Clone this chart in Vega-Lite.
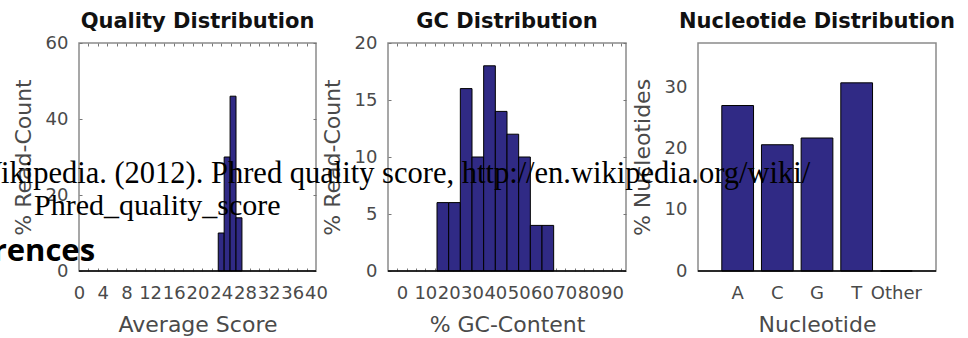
{
  "$schema": "https://vega.github.io/schema/vega-lite/v6.json",
  "autosize": {"type": "none"},
  "padding": {"left": 79, "top": 43, "right": 889, "bottom": 295},
  "background": "white",
  "spacing": 72,
  "bounds": "flush",
  "config": {
    "font": "DejaVu Sans",
    "view": {"stroke": "#8a8a8a", "strokeWidth": 1.5},
    "axis": {
      "labelFont": "DejaVu Sans", "labelFontSize": 18, "labelColor": "#4a4a4a",
      "titleFont": "DejaVu Sans", "titleFontSize": 22, "titleFontWeight": "normal", "titleColor": "#4a4a4a",
      "domain": false, "ticks": false, "tickSize": 0, "grid": false,
      "labelOverlap": false, "labelFlush": false, "labelBound": false
    },
    "axisX": {"labelPadding": 13, "titlePadding": 12},
    "axisY": {"labelPadding": 11, "titlePadding": 10},
    "title": {"font": "DejaVu Sans", "fontSize": 21, "fontWeight": "bold", "color": "#111111", "anchor": "middle", "frame": "group", "baseline": "alphabetic", "offset": 12}
  },
  "hconcat": [
    {
      "width": 237, "height": 228,
      "title": {"text": "Quality Distribution", "offset": 2},
      "data": {"values": [
        {"score_start": 23.5, "score_end": 24.5, "read_pct": 10},
        {"score_start": 24.5, "score_end": 25.5, "read_pct": 30},
        {"score_start": 25.5, "score_end": 26.5, "read_pct": 46},
        {"score_start": 26.5, "score_end": 27.5, "read_pct": 14}
      ]},
      "layer": [
        {
          "mark": {"type": "rect", "fill": "#302a85", "stroke": "#000000", "strokeWidth": 1},
          "encoding": {
            "x": {"field": "score_start", "type": "quantitative", "scale": {"domain": [0, 40], "nice": false, "zero": false},
                  "axis": {"orient": "bottom", "values": [0, 4, 8, 12, 16, 20, 24, 28, 32, 36, 40], "title": "Average Score"}},
            "x2": {"field": "score_end"},
            "y": {"field": "read_pct", "type": "quantitative", "scale": {"domain": [0, 60], "nice": false},
                  "axis": {"values": [0, 20, 40, 60], "title": "% Read-Count", "grid": true, "gridColor": "#777777", "gridOpacity": 1, "gridDash": [3, 231, 3, 1000]}},
            "y2": {"datum": 0}
          }
        },
        {
          "mark": {"type": "point", "opacity": 0},
          "encoding": {
            "x": {"field": "score_start", "type": "quantitative", "scale": {"domain": [0, 40], "nice": false, "zero": false},
                  "axis": {"orient": "top", "values": [1.6, 3.2, 4.8, 6.4, 8, 9.6, 11.2, 12.8, 14.4, 16, 17.6, 19.2, 20.8, 22.4, 24, 25.6, 27.2, 28.8, 30.4, 32, 33.6, 35.2, 36.8, 38.4],
                           "labels": false, "title": null, "grid": true, "gridColor": "#777777", "gridOpacity": 1, "gridDash": [3, 222, 3, 1000]}}
          }
        },
        {
          "data": {"values": [{}]},
          "mark": {"type": "rule", "color": "#000000", "strokeWidth": 1.5},
          "encoding": {"y": {"datum": 0}}
        }
      ],
      "resolve": {"axis": {"x": "independent"}}
    },
    {
      "width": 238, "height": 228,
      "title": {"text": "GC Distribution", "offset": 2},
      "data": {"values": [
        {"gc_start": 15, "gc_end": 20, "read_pct": 6},
        {"gc_start": 20, "gc_end": 25, "read_pct": 6},
        {"gc_start": 25, "gc_end": 30, "read_pct": 16},
        {"gc_start": 30, "gc_end": 35, "read_pct": 10},
        {"gc_start": 35, "gc_end": 40, "read_pct": 18},
        {"gc_start": 40, "gc_end": 45, "read_pct": 14},
        {"gc_start": 45, "gc_end": 50, "read_pct": 12},
        {"gc_start": 50, "gc_end": 55, "read_pct": 10},
        {"gc_start": 55, "gc_end": 60, "read_pct": 4},
        {"gc_start": 60, "gc_end": 65, "read_pct": 4}
      ]},
      "layer": [
        {
          "mark": {"type": "rect", "fill": "#302a85", "stroke": "#000000", "strokeWidth": 1},
          "encoding": {
            "x": {"field": "gc_start", "type": "quantitative", "scale": {"domain": [-6, 96], "nice": false, "zero": false},
                  "axis": {"orient": "bottom", "values": [0, 10, 20, 30, 40, 50, 60, 70, 80, 90], "title": "% GC-Content"}},
            "x2": {"field": "gc_end"},
            "y": {"field": "read_pct", "type": "quantitative", "scale": {"domain": [0, 20], "nice": false},
                  "axis": {"values": [0, 5, 10, 15, 20], "title": "% Read-Count", "grid": true, "gridColor": "#777777", "gridOpacity": 1, "gridDash": [3, 232, 3, 1000]}},
            "y2": {"datum": 0}
          }
        },
        {
          "mark": {"type": "point", "opacity": 0},
          "encoding": {
            "x": {"field": "gc_start", "type": "quantitative", "scale": {"domain": [-6, 96], "nice": false, "zero": false},
                  "axis": {"orient": "top", "values": [-2, 2, 6, 10, 14, 18, 22, 26, 30, 34, 38, 42, 46, 50, 54, 58, 62, 66, 70, 74, 78, 82, 86, 90, 94],
                           "labels": false, "title": null, "grid": true, "gridColor": "#777777", "gridOpacity": 1, "gridDash": [3, 222, 3, 1000]}}
          }
        },
        {
          "data": {"values": [{}]},
          "mark": {"type": "rule", "color": "#000000", "strokeWidth": 1.5},
          "encoding": {"y": {"datum": 0}}
        }
      ],
      "resolve": {"axis": {"x": "independent"}}
    },
    {
      "width": 238, "height": 228,
      "title": {"text": "Nucleotide Distribution", "offset": 11},
      "layer": [
        {
          "data": {"values": [
            {"nucleotide": "A", "pct": 27.0},
            {"nucleotide": "C", "pct": 20.6},
            {"nucleotide": "G", "pct": 21.7},
            {"nucleotide": "T", "pct": 30.7},
            {"nucleotide": "Other", "pct": 0}
          ]},
          "mark": {"type": "bar", "fill": "#302a85", "stroke": "#000000", "strokeWidth": 1},
          "encoding": {
            "x": {"field": "nucleotide", "type": "nominal", "sort": null, "scale": {"paddingInner": 0.2, "paddingOuter": 0.6},
                  "axis": {"title": "Nucleotide", "labelAngle": 0}},
            "y": {"field": "pct", "type": "quantitative", "scale": {"domain": [0, 37.2], "nice": false},
                  "axis": {"values": [0, 10, 20, 30], "title": "% Nucleotides"}}
          }
        },
        {
          "data": {"values": [{}]},
          "mark": {"type": "rule", "color": "#000000", "strokeWidth": 1.5},
          "encoding": {"y": {"datum": 0}}
        },
        {
          "data": {"values": [{"ref": "Wikipedia. (2012). Phred quality score, http://en.wikipedia.org/wiki/"}]},
          "mark": {"type": "text", "font": "Liberation Serif", "fontSize": 30.5, "color": "#000000", "align": "center", "baseline": "alphabetic"},
          "encoding": {
            "text": {"field": "ref"},
            "x": {"datum": -7.72, "type": "quantitative", "scale": {"domain": [0, 6], "nice": false, "zero": false}, "axis": null},
            "y": {"datum": 14.3}
          }
        },
        {
          "data": {"values": [{"ref": "Phred_quality_score"}]},
          "mark": {"type": "text", "font": "Liberation Serif", "fontSize": 30, "color": "#000000", "align": "center", "baseline": "alphabetic"},
          "encoding": {
            "text": {"field": "ref"},
            "x": {"datum": -13.63, "type": "quantitative", "scale": {"domain": [0, 6], "nice": false, "zero": false}, "axis": null},
            "y": {"datum": 9.1}
          }
        },
        {
          "data": {"values": [{"heading": "References"}]},
          "mark": {"type": "text", "font": "Open Sans", "fontWeight": "bold", "fontSize": 31, "color": "#000000", "align": "right", "baseline": "alphabetic"},
          "encoding": {
            "text": {"field": "heading"},
            "x": {"datum": -15.2, "type": "quantitative", "scale": {"domain": [0, 6], "nice": false, "zero": false}, "axis": null},
            "y": {"datum": 1.6}
          }
        }
      ],
      "resolve": {"scale": {"x": "independent"}, "axis": {"x": "independent"}}
    }
  ]
}
